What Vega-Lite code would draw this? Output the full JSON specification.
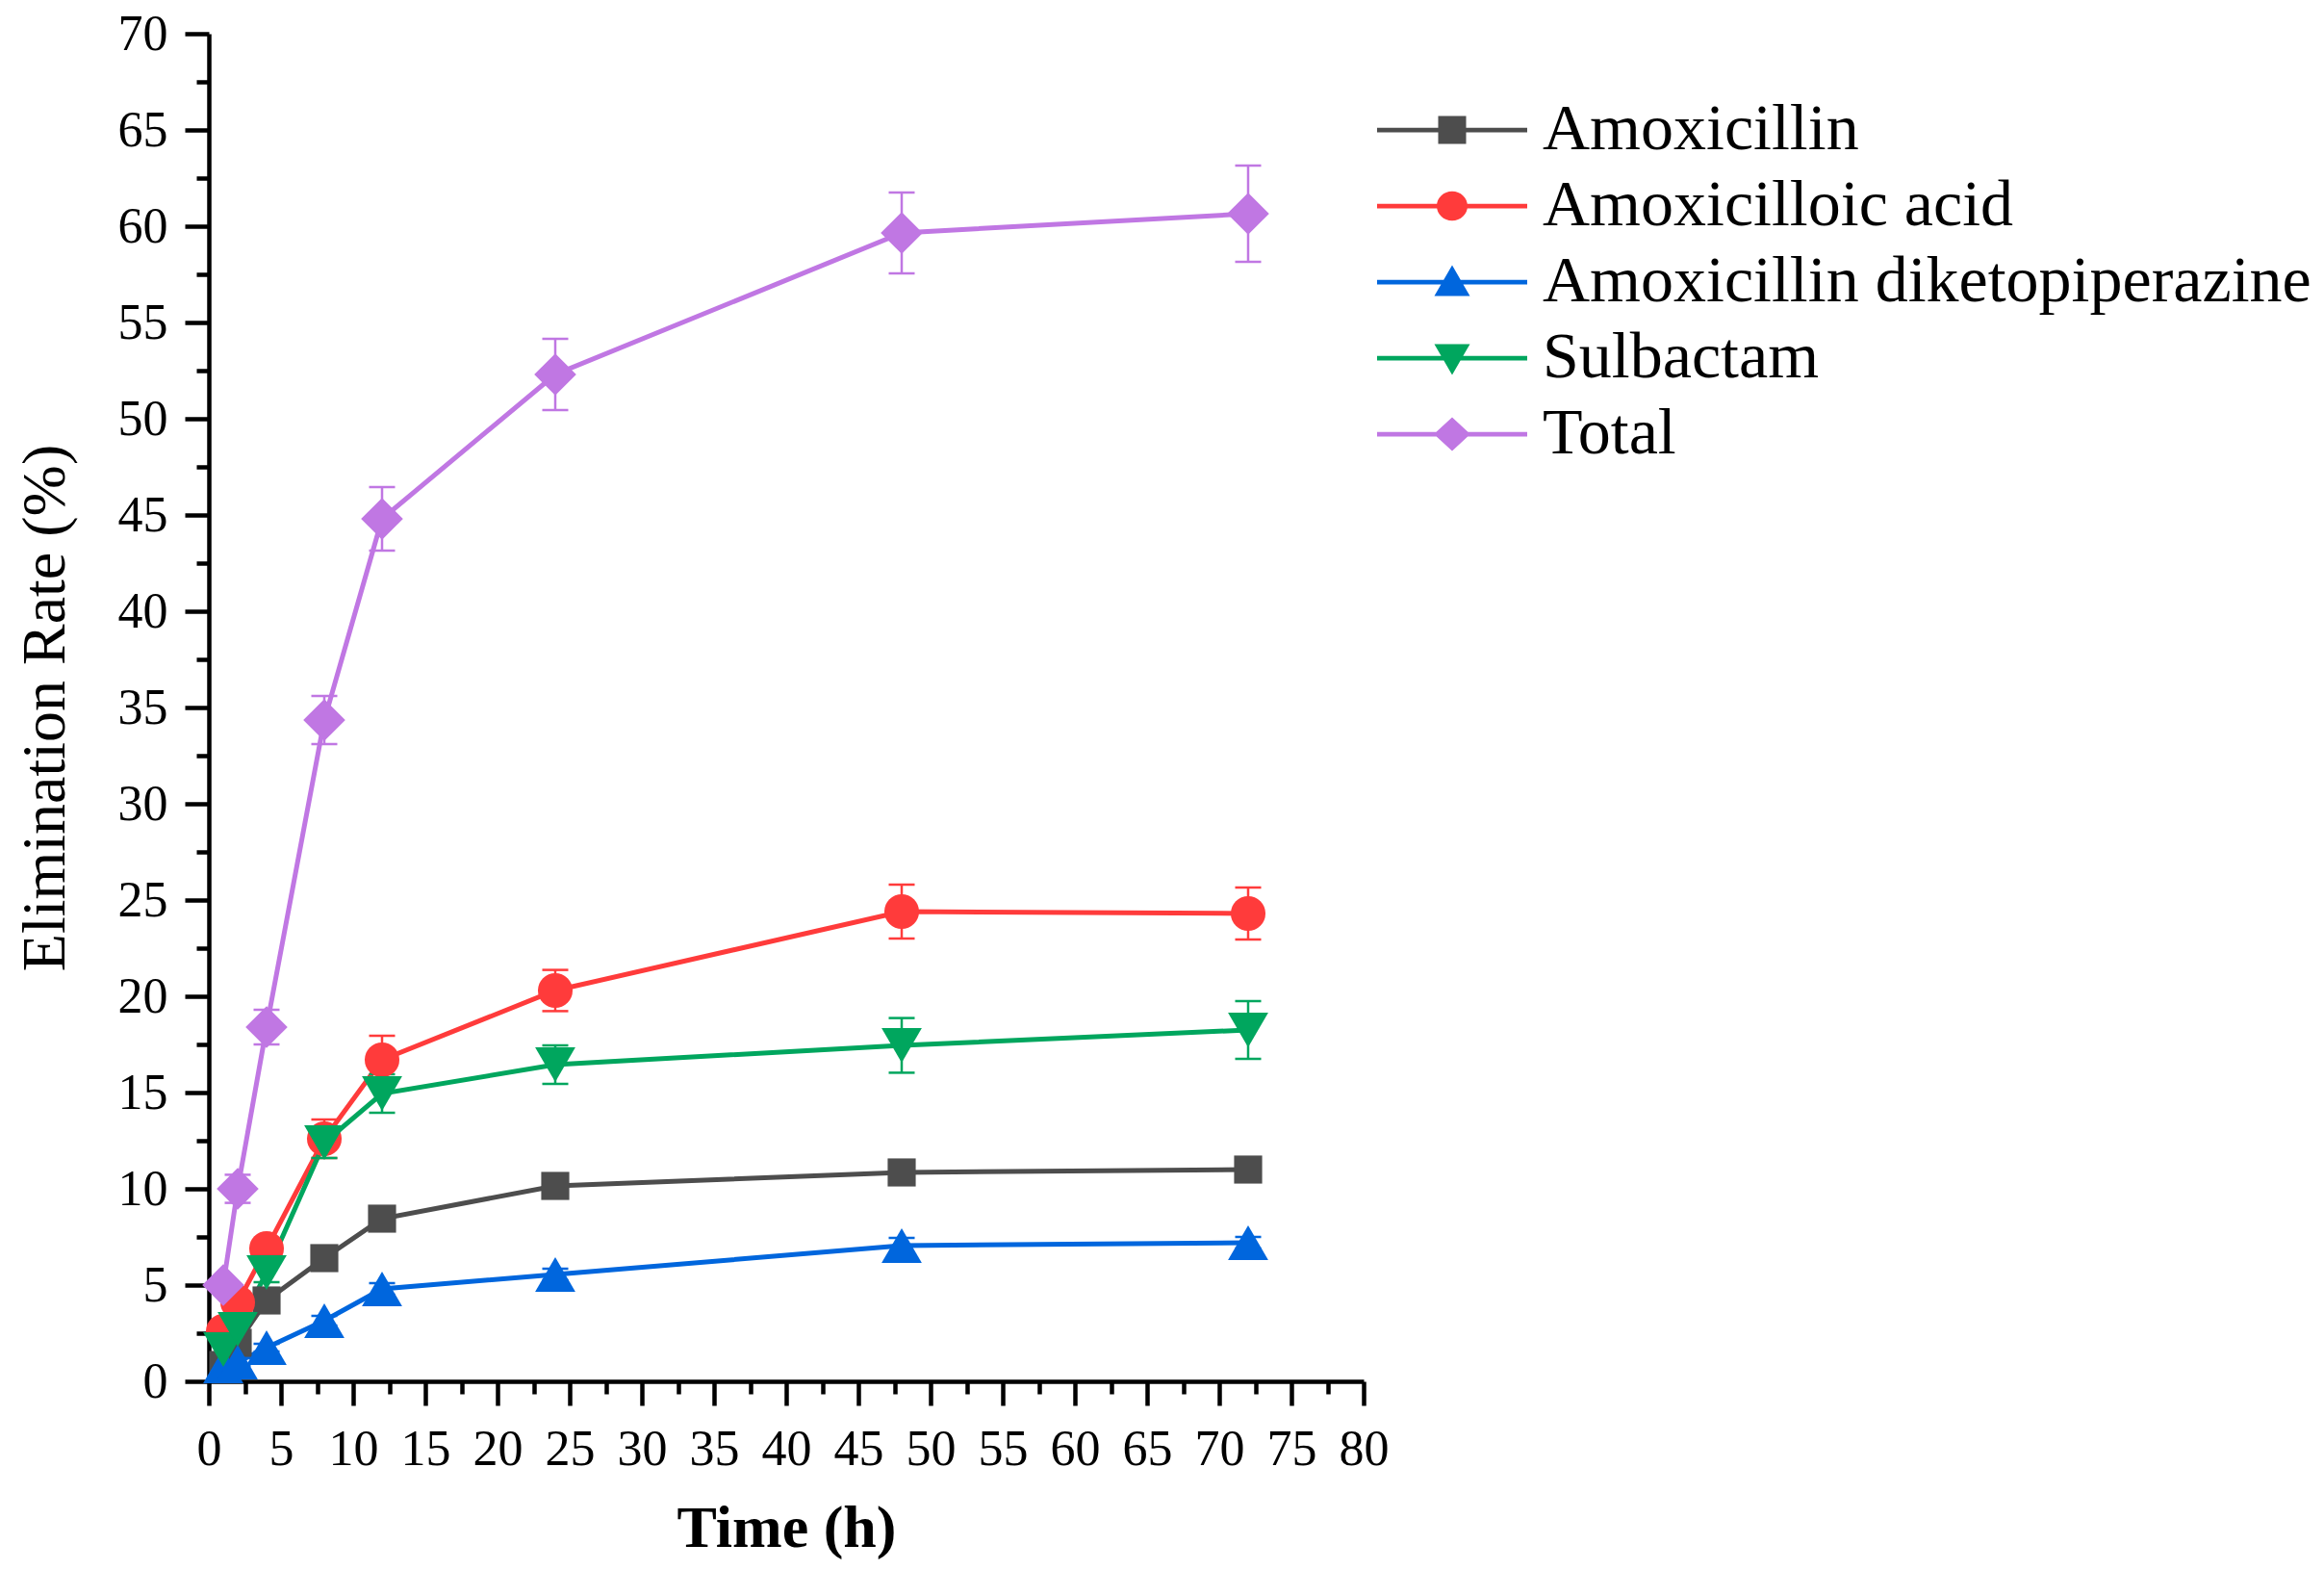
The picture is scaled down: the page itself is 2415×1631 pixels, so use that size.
{
  "$schema": "https://vega.github.io/schema/vega-lite/v6.json",
  "width": 1200,
  "height": 1400,
  "autosize": {"type": "none"},
  "padding": {"left": 217, "top": 35, "right": 998, "bottom": 196},
  "background": "white",
  "data": {
    "values": [
      {"t": 1, "s": "Amoxicillin", "v": 0.85, "e": 0.3},
      {"t": 2, "s": "Amoxicillin", "v": 2.0, "e": 0.3},
      {"t": 4, "s": "Amoxicillin", "v": 4.2, "e": 0.3},
      {"t": 8, "s": "Amoxicillin", "v": 6.4, "e": 0.3},
      {"t": 12, "s": "Amoxicillin", "v": 8.45, "e": 0.35},
      {"t": 24, "s": "Amoxicillin", "v": 10.15, "e": 0.3},
      {"t": 48, "s": "Amoxicillin", "v": 10.85, "e": 0.3},
      {"t": 72, "s": "Amoxicillin", "v": 11.0, "e": 0.3},
      {"t": 1, "s": "Amoxicilloic acid", "v": 2.6, "e": 0.3},
      {"t": 2, "s": "Amoxicilloic acid", "v": 4.1, "e": 0.3},
      {"t": 4, "s": "Amoxicilloic acid", "v": 6.9, "e": 0.35},
      {"t": 8, "s": "Amoxicilloic acid", "v": 12.6, "e": 1.0},
      {"t": 12, "s": "Amoxicilloic acid", "v": 16.7, "e": 1.25},
      {"t": 24, "s": "Amoxicilloic acid", "v": 20.3, "e": 1.07},
      {"t": 48, "s": "Amoxicilloic acid", "v": 24.4, "e": 1.4},
      {"t": 72, "s": "Amoxicilloic acid", "v": 24.3, "e": 1.35},
      {"t": 1, "s": "Amoxicillin diketopiperazine", "v": 0.8, "e": 0.2},
      {"t": 2, "s": "Amoxicillin diketopiperazine", "v": 1.0, "e": 0.2},
      {"t": 4, "s": "Amoxicillin diketopiperazine", "v": 1.75, "e": 0.2},
      {"t": 8, "s": "Amoxicillin diketopiperazine", "v": 3.15, "e": 0.25},
      {"t": 12, "s": "Amoxicillin diketopiperazine", "v": 4.8, "e": 0.3},
      {"t": 24, "s": "Amoxicillin diketopiperazine", "v": 5.55, "e": 0.3},
      {"t": 48, "s": "Amoxicillin diketopiperazine", "v": 7.05, "e": 0.4},
      {"t": 72, "s": "Amoxicillin diketopiperazine", "v": 7.2, "e": 0.3},
      {"t": 1, "s": "Sulbactam", "v": 1.65, "e": 0.4},
      {"t": 2, "s": "Sulbactam", "v": 2.7, "e": 0.4},
      {"t": 4, "s": "Sulbactam", "v": 5.65, "e": 0.5},
      {"t": 8, "s": "Sulbactam", "v": 12.4, "e": 0.8},
      {"t": 12, "s": "Sulbactam", "v": 14.95, "e": 1.0},
      {"t": 24, "s": "Sulbactam", "v": 16.45, "e": 1.0},
      {"t": 48, "s": "Sulbactam", "v": 17.45, "e": 1.42},
      {"t": 72, "s": "Sulbactam", "v": 18.25, "e": 1.5},
      {"t": 1, "s": "Total", "v": 5.0, "e": 0.3},
      {"t": 2, "s": "Total", "v": 10.0, "e": 0.73},
      {"t": 4, "s": "Total", "v": 18.4, "e": 0.9},
      {"t": 8, "s": "Total", "v": 34.35, "e": 1.25},
      {"t": 12, "s": "Total", "v": 44.8, "e": 1.65},
      {"t": 24, "s": "Total", "v": 52.3, "e": 1.85},
      {"t": 48, "s": "Total", "v": 59.65, "e": 2.1},
      {"t": 72, "s": "Total", "v": 60.65, "e": 2.5}
    ]
  },
  "resolve": {"axis": {"x": "independent", "y": "independent"}},
  "layer": [
    {
      "mark": {"type": "point", "filled": true, "opacity": 0, "strokeWidth": 0},
      "encoding": {
        "x": {
          "field": "t", "type": "quantitative",
          "scale": {"domain": [0, 80], "nice": false, "zero": false},
          "axis": {
            "orient": "bottom",
            "values": [2.5, 7.5, 12.5, 17.5, 22.5, 27.5, 32.5, 37.5, 42.5, 47.5, 52.5, 57.5, 62.5, 67.5, 72.5, 77.5],
            "labels": false, "domain": false, "grid": false, "title": null,
            "tickSize": 13, "tickWidth": 4.5, "tickColor": "black"
          }
        },
        "y": {
          "field": "v", "type": "quantitative",
          "scale": {"domain": [0, 70], "nice": false},
          "axis": {
            "orient": "left",
            "values": [2.5, 7.5, 12.5, 17.5, 22.5, 27.5, 32.5, 37.5, 42.5, 47.5, 52.5, 57.5, 62.5, 67.5],
            "labels": false, "domain": false, "grid": false, "title": null,
            "tickSize": 13, "tickWidth": 4.5, "tickColor": "black"
          }
        },
        "fill": {
          "field": "s", "type": "nominal",
          "scale": {
            "domain": ["Amoxicillin", "Amoxicilloic acid", "Amoxicillin diketopiperazine", "Sulbactam", "Total"],
            "range": ["#4D4D4D", "#FF3B3B", "#0066DD", "#00A65E", "#C077E3"]
          },
          "legend": {
            "orient": "none", "legendX": 1258, "legendY": 66, "title": null, "padding": 0,
            "labelFont": "Liberation Serif", "labelFontSize": 68, "labelColor": "black", "labelLimit": 2000,
            "labelOffset": 60, "symbolSize": 625, "symbolStrokeWidth": 0, "symbolOpacity": 1, "rowPadding": 11
          }
        },
        "shape": {
          "field": "s", "type": "nominal",
          "scale": {
            "domain": ["Amoxicillin", "Amoxicilloic acid", "Amoxicillin diketopiperazine", "Sulbactam", "Total"],
            "range": [
              "M-6.24,-0.19H6.24V0.19H-6.24Z M-1.16,-1.16H1.16V1.16H-1.16Z",
              "M-6.24,-0.19H6.24V0.19H-6.24Z M-1.28,0A1.28,1.22,0,1,1,1.28,0A1.28,1.22,0,1,1,-1.28,0Z",
              "M-6.24,-0.19H6.24V0.19H-6.24Z M0,-1.4L1.48,1.16L-1.48,1.16Z",
              "M-6.24,-0.19H6.24V0.19H-6.24Z M0,1.4L-1.48,-1.16L1.48,-1.16Z",
              "M-6.24,-0.19H6.24V0.19H-6.24Z M0,-1.4L1.52,0L0,1.4L-1.52,0Z"
            ]
          },
          "legend": {
            "orient": "none", "legendX": 1258, "legendY": 66, "title": null, "padding": 0,
            "labelFont": "Liberation Serif", "labelFontSize": 68, "labelColor": "black", "labelLimit": 2000,
            "labelOffset": 60, "symbolSize": 625, "symbolStrokeWidth": 0, "symbolOpacity": 1, "rowPadding": 11
          }
        }
      }
    },
    {
      "mark": {"type": "line", "strokeWidth": 5},
      "encoding": {
        "x": {
          "field": "t", "type": "quantitative",
          "scale": {"domain": [0, 80], "nice": false, "zero": false},
          "axis": {
            "orient": "bottom",
            "values": [0, 5, 10, 15, 20, 25, 30, 35, 40, 45, 50, 55, 60, 65, 70, 75, 80],
            "format": "d",
            "title": "Time (h)",
            "titleFont": "Liberation Serif", "titleFontSize": 62, "titleFontWeight": "bold", "titleColor": "black", "titlePadding": 26,
            "labelFont": "Liberation Serif", "labelFontSize": 52, "labelColor": "black", "labelPadding": 20,
            "labelFlush": false, "labelOverlap": false, "labelBound": false,
            "tickSize": 25, "tickWidth": 4.5, "tickColor": "black",
            "domainColor": "black", "domainWidth": 4.5, "grid": false
          }
        },
        "y": {
          "field": "v", "type": "quantitative",
          "scale": {"domain": [0, 70], "nice": false},
          "axis": {
            "orient": "left",
            "values": [0, 5, 10, 15, 20, 25, 30, 35, 40, 45, 50, 55, 60, 65, 70],
            "format": "d",
            "title": "Elimination Rate (%)",
            "titleFont": "Liberation Serif", "titleFontSize": 64, "titleFontWeight": "normal", "titleColor": "black", "titlePadding": 43,
            "labelFont": "Liberation Serif", "labelFontSize": 52, "labelColor": "black", "labelPadding": 18,
            "labelFlush": false, "labelOverlap": false, "labelBound": false,
            "tickSize": 25, "tickWidth": 4.5, "tickColor": "black",
            "domainColor": "black", "domainWidth": 4.5, "grid": false
          }
        },
        "color": {
          "field": "s", "type": "nominal",
          "scale": {
            "domain": ["Amoxicillin", "Amoxicilloic acid", "Amoxicillin diketopiperazine", "Sulbactam", "Total"],
            "range": ["#4D4D4D", "#FF3B3B", "#0066DD", "#00A65E", "#C077E3"]
          },
          "legend": null
        }
      }
    },
    {
      "mark": {"type": "errorbar", "ticks": true, "size": 27, "thickness": 2.5, "opacity": 1},
      "encoding": {
        "x": {"field": "t", "type": "quantitative", "axis": null},
        "y": {"field": "v", "type": "quantitative", "axis": null},
        "yError": {"field": "e"},
        "color": {"field": "s", "type": "nominal", "legend": null}
      }
    },
    {
      "transform": [{"filter": "datum.s === 'Amoxicillin'"}],
      "mark": {"type": "point", "shape": "square", "size": 850, "filled": true, "opacity": 1, "strokeWidth": 0},
      "encoding": {
        "x": {"field": "t", "type": "quantitative", "axis": null},
        "y": {"field": "v", "type": "quantitative", "axis": null},
        "color": {"field": "s", "type": "nominal", "legend": null}
      }
    },
    {
      "transform": [{"filter": "datum.s === 'Amoxicilloic acid'"}],
      "mark": {"type": "point", "shape": "circle", "size": 1300, "filled": true, "opacity": 1, "strokeWidth": 0},
      "encoding": {
        "x": {"field": "t", "type": "quantitative", "axis": null},
        "y": {"field": "v", "type": "quantitative", "axis": null},
        "color": {"field": "s", "type": "nominal", "legend": null}
      }
    },
    {
      "transform": [{"filter": "datum.s === 'Amoxicillin diketopiperazine'"}],
      "mark": {"type": "point", "shape": "triangle-up", "size": 1750, "filled": true, "opacity": 1, "strokeWidth": 0},
      "encoding": {
        "x": {"field": "t", "type": "quantitative", "axis": null},
        "y": {"field": "v", "type": "quantitative", "axis": null},
        "color": {"field": "s", "type": "nominal", "legend": null}
      }
    },
    {
      "transform": [{"filter": "datum.s === 'Sulbactam'"}],
      "mark": {"type": "point", "shape": "triangle-down", "size": 1750, "filled": true, "opacity": 1, "strokeWidth": 0},
      "encoding": {
        "x": {"field": "t", "type": "quantitative", "axis": null},
        "y": {"field": "v", "type": "quantitative", "axis": null},
        "color": {"field": "s", "type": "nominal", "legend": null}
      }
    },
    {
      "transform": [{"filter": "datum.s === 'Total'"}],
      "mark": {"type": "point", "shape": "diamond", "size": 1900, "filled": true, "opacity": 1, "strokeWidth": 0},
      "encoding": {
        "x": {"field": "t", "type": "quantitative", "axis": null},
        "y": {"field": "v", "type": "quantitative", "axis": null},
        "color": {"field": "s", "type": "nominal", "legend": null}
      }
    }
  ],
  "config": {
    "view": {"stroke": null},
    "legend": {
      "labelFont": "Liberation Serif",
      "labelFontSize": 68,
      "labelColor": "black",
      "labelLimit": 2000
    }
  }
}
